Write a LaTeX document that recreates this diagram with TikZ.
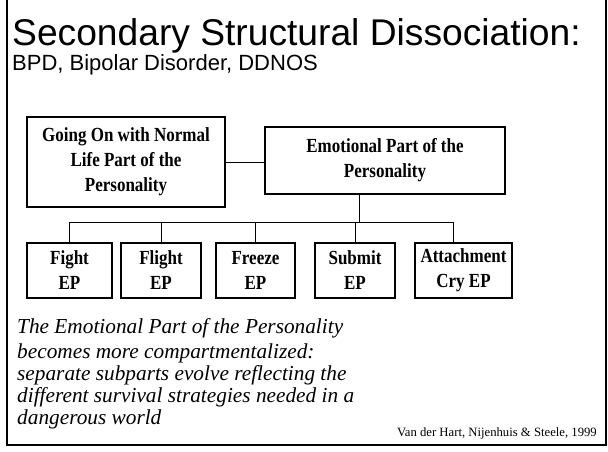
\documentclass[tikz,border=0pt]{standalone}
\usepackage{fontspec}
\setmainfont{Liberation Serif}
\newfontfamily\headfont{Liberation Sans}
\newfontfamily\boxfont[FakeStretch=0.85]{Liberation Serif}
\begin{document}
\begin{tikzpicture}[x=1pt,y=-1pt,
  box/.style={draw, line width=1.2pt, align=center, inner sep=0pt,
    font=\boxfont\fontsize{20}{25}\selectfont\bfseries},
  epbox/.style={box, minimum height=55pt},
  link/.style={line width=0.9pt},
  note/.style={anchor=base west, inner sep=0pt, font=\fontsize{21.3}{22}\selectfont\itshape}]
\useasboundingbox[fill=white] (0,0) rectangle (608,451);

% slide frame (open at the top)
\draw[line width=2.2pt] (7,0) -- (7,445) -- (606,445) -- (606,0);

% heading
\node[anchor=base west, inner sep=0pt, font=\headfont\fontsize{37.2}{40}\selectfont] (title) at (12,45) {Secondary Structural Dissociation:};
\node[anchor=base west, inner sep=0pt, font=\headfont\fontsize{22}{26}\selectfont] (sub) at (12,70) {BPD, Bipolar Disorder, DDNOS};

% top level parts
\node[box, minimum width=198pt, minimum height=90pt] (anp) at (126,162) {Going On with Normal\\Life Part of the\\Personality};
\node[box, minimum width=240pt, minimum height=67pt] (ep) at (385,160.5) {Emotional Part of the\\Personality};

% emotional subparts
\node[epbox, minimum width=85pt] (fight) at (69.5,270.5) {Fight\\EP};
\node[epbox, minimum width=80pt] (flight) at (161,270.5) {Flight\\EP};
\node[epbox, minimum width=79pt] (freeze) at (255.5,270.5) {Freeze\\EP};
\node[epbox, minimum width=80pt] (submit) at (355,270.5) {Submit\\EP};
\node[epbox, minimum width=97pt] (attach) at (463.5,270.5) {Attachment\\Cry EP};

% connectors
\coordinate (bus) at (0,222);
\coordinate (epfoot) at ([xshift=-26pt]ep.south);
\coordinate (atttop) at ([xshift=-10.5pt]attach.north);
\draw[link] (anp.east) -- (anp.east -| ep.west);
\draw[link] (epfoot) -- (epfoot |- bus);
\draw[link] (fight.north) -- (fight.north |- bus) -- (atttop |- bus) -- (atttop);
\draw[link] (flight.north) -- (flight.north |- bus);
\draw[link] (freeze.north) -- (freeze.north |- bus);
\draw[link] (submit.north) -- (submit.north |- bus);

% explanatory note
\node[note] (n1) at (17,333) {The Emotional Part of the Personality};
\node[note] (n2) at (17,358) {becomes more compartmentalized:};
\node[note] (n3) at (17,380) {separate subparts evolve reflecting the};
\node[note] (n4) at (17,402) {different survival strategies needed in a};
\node[note] (n5) at (17,424) {dangerous world};

% reference
\node[anchor=base east, inner sep=0pt, font=\fontsize{12.7}{14}\selectfont] (cite) at (597,436) {Van der Hart, Nijenhuis \& Steele, 1999};
\end{tikzpicture}
\end{document}
